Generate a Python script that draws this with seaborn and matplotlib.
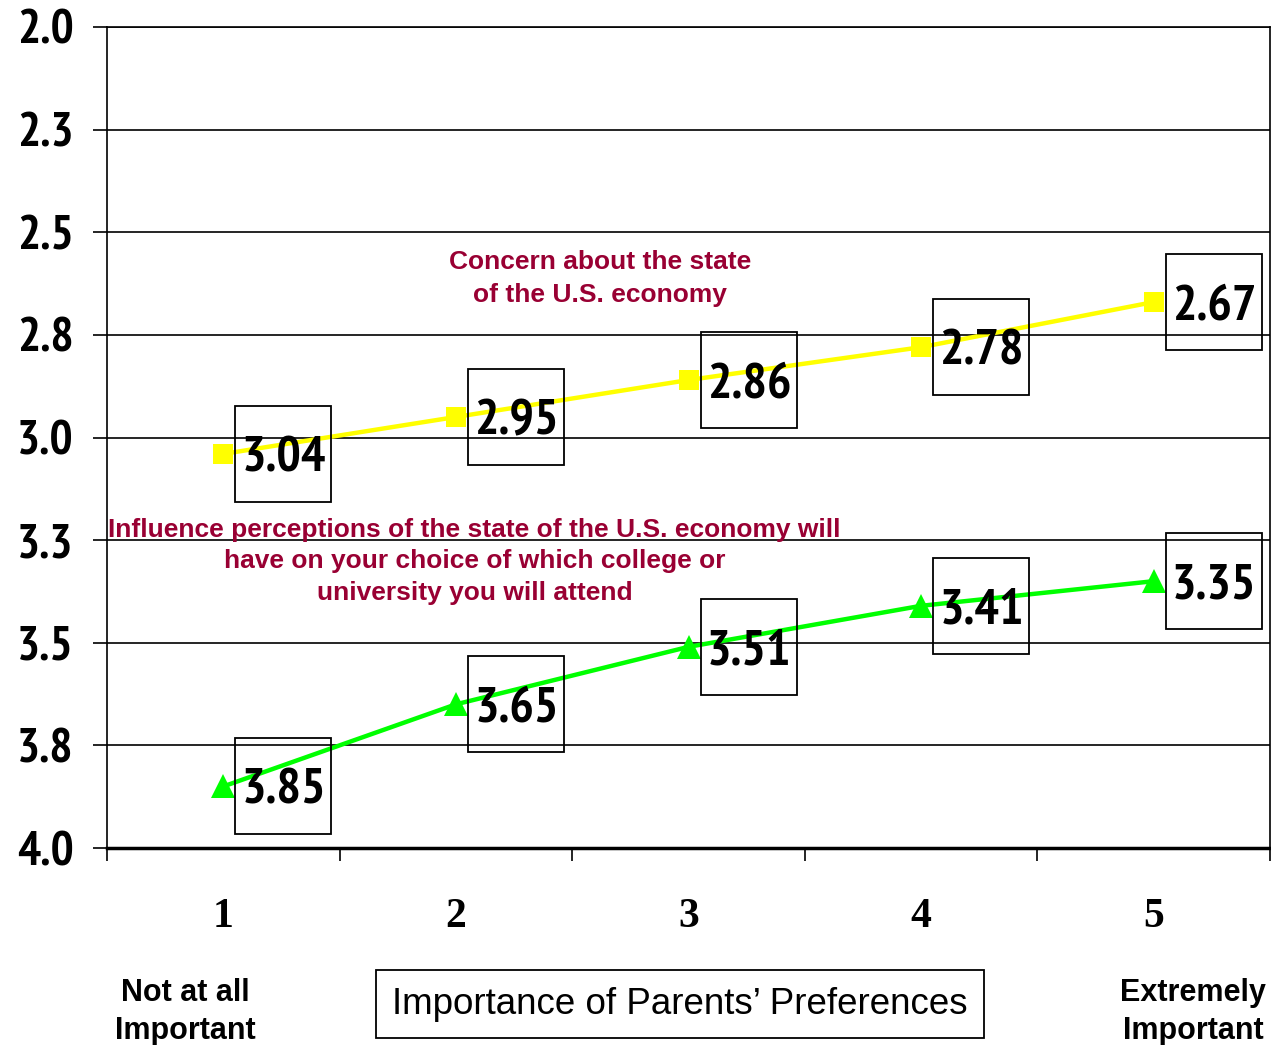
import matplotlib
matplotlib.use('Agg')
import matplotlib.pyplot as plt
from matplotlib.patches import Rectangle
import seaborn as sns

# Data
levels = [1, 2, 3, 4, 5]
concern_values = [3.04, 2.95, 2.86, 2.78, 2.67]
influence_values = [3.85, 3.65, 3.51, 3.41, 3.35]
y_ticks = [2.0, 2.25, 2.5, 2.75, 3.0, 3.25, 3.5, 3.75, 4.0]
y_tick_labels = ['2.0', '2.3', '2.5', '2.8', '3.0', '3.3', '3.5', '3.8', '4.0']
x_tick_labels = ['1', '2', '3', '4', '5']

concern_label = 'Concern about the state\nof the U.S. economy'
influence_label = ('Influence perceptions of the state of the U.S. economy will\n'
                   'have on your choice of which college or\n'
                   'university you will attend')

sns.set_style('white')
plt.rcParams['text.color'] = 'black'
plt.rcParams['xtick.color'] = 'black'
plt.rcParams['ytick.color'] = 'black'

narrow = ['PT Sans Narrow', 'Fira Sans Condensed', 'DejaVu Sans']
sans = ['Liberation Sans', 'DejaVu Sans']
serif = ['Liberation Serif', 'DejaVu Serif']
label_red = '#990033'

fig = plt.figure(figsize=(12.71, 10.45), dpi=100)
ax = fig.add_axes([107 / 1271, 1 - 848 / 1045, 1163 / 1271, 821 / 1045])

sns.lineplot(x=levels, y=concern_values, color='#FFFF00', marker='s',
             markersize=15, markeredgewidth=0, linewidth=3.2, ax=ax, zorder=3)
sns.lineplot(x=levels, y=influence_values, color='#00FF00', marker='^',
             markersize=17, markeredgewidth=0, linewidth=3.2, ax=ax, zorder=3)

ax.set_xlim(0.5, 5.5)
ax.set_ylim(4.0, 2.0)

# y axis
ax.set_yticks(y_ticks)
ax.set_yticklabels(y_tick_labels, family=narrow, fontweight='bold', fontsize=35,
                   color='black')
ax.tick_params(axis='y', direction='out', length=10, width=1.2, color='black',
               pad=14, left=True)
ax.yaxis.grid(True, color='black', linewidth=1.2)
ax.xaxis.grid(False)

# x axis: labels at categories, ticks at boundaries
ax.set_xticks(levels)
ax.set_xticklabels(x_tick_labels, family=serif, fontweight='bold', fontsize=30,
                   color='black')
ax.tick_params(axis='x', length=0, pad=36)
ax.set_xticks([l - 0.5 for l in levels] + [5.5], minor=True)
ax.tick_params(axis='x', which='minor', direction='out', length=9, width=1.2,
               color='black', bottom=True)
ax.set_xlabel('')
ax.set_ylabel('')

for side in ['left', 'right', 'top']:
    ax.spines[side].set_color('black')
    ax.spines[side].set_linewidth(1.2)
ax.spines['bottom'].set_color('black')
ax.spines['bottom'].set_linewidth(2.5)

# boxed value labels
for series in [concern_values, influence_values]:
    for x, v in zip(levels, series):
        ax.add_patch(Rectangle((x + 0.052, v - 0.117), 0.413, 0.234,
                               fill=False, edgecolor='black', linewidth=1.3, zorder=4))
        ax.text(x + 0.26, v, f'{v:.2f}', family=narrow, fontweight='bold',
                fontsize=37, ha='center', va='center_baseline', color='black', zorder=5)

ax.text(0.424, 0.694, concern_label, transform=ax.transAxes, color=label_red,
        family=sans, fontweight='bold', fontsize=19, ha='center', va='center',
        linespacing=1.45)
ax.text(0.316, 0.349, influence_label, transform=ax.transAxes, color=label_red,
        family=sans, fontweight='bold', fontsize=19, ha='center', va='center',
        linespacing=1.38)

# bottom captions
fig.text(185 / 1271, 1 - 1012 / 1045, 'Not at all\nImportant', family=sans,
         fontweight='bold', fontsize=22, ha='center', va='center', linespacing=1.32)
fig.text(1193 / 1271, 1 - 1012 / 1045, 'Extremely\nImportant', family=sans,
         fontweight='bold', fontsize=22, ha='center', va='center', linespacing=1.32)
fig.text(680 / 1271, 1 - 1004 / 1045, 'Importance of Parents\u2019 Preferences',
         family=sans, fontsize=26.5, ha='center', va='center',
         bbox=dict(boxstyle='square,pad=0.45', facecolor='white',
                   edgecolor='black', linewidth=1.3))

fig.savefig('out.png', dpi=100)
